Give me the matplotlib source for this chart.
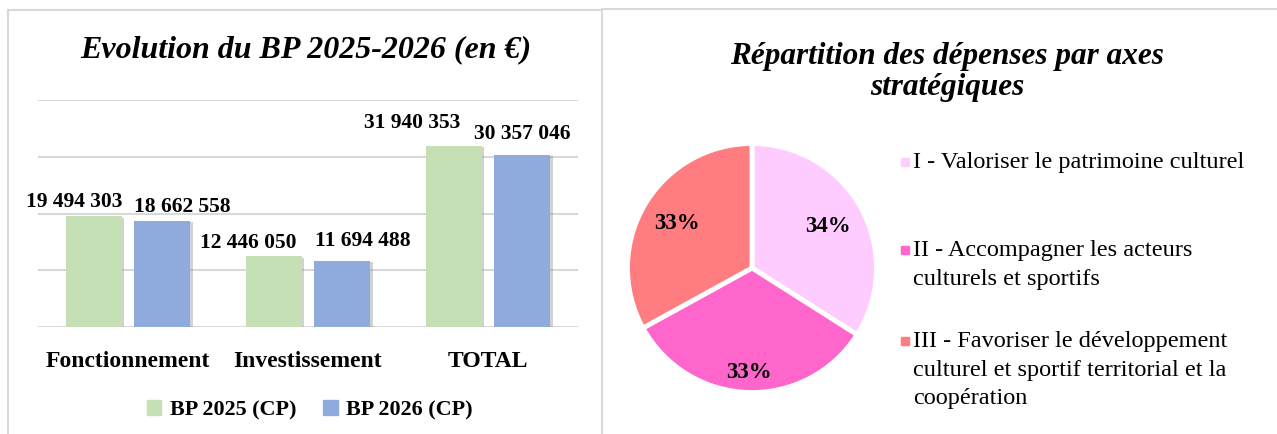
import matplotlib
matplotlib.use("Agg")
import matplotlib.pyplot as plt
import matplotlib.patheffects as pe
from matplotlib.lines import Line2D
from matplotlib.patches import Rectangle, Patch
import numpy as np

# --- data ---
categories = ["Fonctionnement", "Investissement", "TOTAL"]
bp_2025 = [19494303, 12446050, 31940353]
bp_2026 = [18662558, 11694488, 30357046]
series_names = ["BP 2025 (CP)", "BP 2026 (CP)"]

axes_labels = [
    "I - Valoriser le patrimoine culturel",
    "II - Accompagner les acteurs\nculturels et sportifs",
    "III - Favoriser le développement\nculturel et sportif territorial et la\ncoopération",
]
axes_share = [34, 33, 33]

# --- style ---
GREEN = "#C5E0B4"
BLUE = "#8FAADC"
PIE_COLORS = ["#FFCCFF", "#FF66CC", "#FF7C80"]
GRID = "#D9D9D9"
SERIF = "Liberation Serif"

W, H = 1277, 434
fig = plt.figure(figsize=(W / 100, H / 100), dpi=100)


def fx(px):
    return px / W


def fy(py):
    return 1 - py / H


def fmt(v):
    return f"{v:,}".replace(",", " ")


# panel borders
for (x0, y0, x1, y1) in [(8, 10, 602, 10), (8, 10, 8, 434), (602, 9, 1277, 9), (602, 9, 602, 434)]:
    fig.add_artist(Line2D([fx(x0), fx(x1)], [fy(y0), fy(y1)], color=GRID, lw=1.5,
                          transform=fig.transFigure))

# ---------------- bar chart ----------------
ax = fig.add_axes([fx(38), fy(327), fx(578) - fx(38), fy(100) - fy(327)])
x = np.arange(len(categories))
width = 0.31
shadow = [pe.SimplePatchShadow(offset=(2, -1), shadow_rgbFace="#7f7f7f", alpha=0.35), pe.Normal()]
b1 = ax.bar(x - 0.19, bp_2025, width, color=GREEN, zorder=3, path_effects=shadow)
b2 = ax.bar(x + 0.19, bp_2026, width, color=BLUE, zorder=3, path_effects=shadow)

ax.set_xlim(-0.5, 2.5)
ax.set_ylim(0, 40e6)
ax.set_yticks(np.arange(0, 40e6 + 1, 10e6))
ax.yaxis.grid(True, color=GRID, lw=1.5, zorder=0)
ax.tick_params(axis="y", left=False, labelleft=False)
ax.tick_params(axis="x", bottom=False, pad=14)
ax.set_xticks(x)
ax.set_xticklabels(categories, fontfamily=SERIF, fontweight="bold", fontsize=17)
for s in ax.spines.values():
    s.set_visible(False)

# value labels (hand-placed offsets like the original)
dx_2025 = [-20, -26, -42]
dy_2025 = [14, 13, 23]
dx_2026 = [20, 21, 0]
dy_2026 = [14, 20, 21]
for bars, vals, dxs, dys in [(b1, bp_2025, dx_2025, dy_2025), (b2, bp_2026, dx_2026, dy_2026)]:
    for r, v, dx, dy in zip(bars, vals, dxs, dys):
        ax.annotate(fmt(v), (r.get_x() + r.get_width() / 2, v), xytext=(dx, dy),
                    textcoords="offset pixels", ha="center", va="center",
                    fontfamily=SERIF, fontweight="bold", fontsize=15.5, zorder=4)

fig.text(fx(306), fy(50), "Evolution du BP 2025-2026 (en €)", ha="center", va="center",
         fontfamily=SERIF, fontweight="bold", fontstyle="italic", fontsize=23)

handles = [Patch(color=GREEN), Patch(color=BLUE)]
fig.legend(handles=handles, labels=series_names, loc="center", bbox_to_anchor=(fx(310), fy(410)),
           ncol=2, frameon=False, handlelength=0.65, handleheight=0.65, handletextpad=0.4,
           columnspacing=1.2, prop={"family": SERIF, "weight": "bold", "size": 15.9})

# ---------------- pie chart ----------------
pax = fig.add_axes([fx(625), fy(395), fx(879) - fx(625), fy(141) - fy(395)])
wedges, _ = pax.pie(axes_share, colors=PIE_COLORS, startangle=90, counterclock=False,
                    wedgeprops={"edgecolor": "white", "linewidth": 3.5})
pax.set_xlim(-1.02, 1.02)
pax.set_ylim(-1.02, 1.02)
pax.set_aspect("equal")

pct_radius = [0.70, 0.84, 0.70]
for w, share, rr in zip(wedges, axes_share, pct_radius):
    mid = np.deg2rad((w.theta1 + w.theta2) / 2)
    pax.text(rr * np.cos(mid), rr * np.sin(mid), f"{share}%", ha="center", va="center",
             fontfamily=SERIF, fontweight="bold", fontsize=16.5)

fig.text(fx(947), fy(72), "Répartition des dépenses par axes\nstratégiques", ha="center", va="center",
         fontfamily=SERIF, fontweight="bold", fontstyle="italic", fontsize=22.5, linespacing=1.05)

# legend of the pie, entries laid out by hand
legend_top = [162, 250, 341]
for lab, col, yy in zip(axes_labels, PIE_COLORS, legend_top):
    fig.add_artist(Rectangle((fx(901), fy(yy + 4)), fx(8), 8 / H, color=col, transform=fig.transFigure))
    fig.text(fx(913), fy(yy - 10), lab, ha="left", va="top", fontfamily=SERIF, fontsize=17.5,
             linespacing=1.48)

fig.savefig("out.png", dpi=100)
